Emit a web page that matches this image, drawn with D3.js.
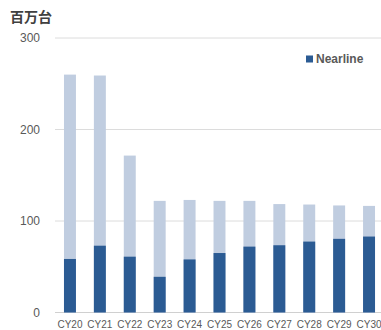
<!DOCTYPE html>
<html>
<head>
<meta charset="utf-8">
<script src="https://cdn.jsdelivr.net/npm/d3@7"></script>
<style>
  html, body { margin: 0; padding: 0; background: #fff; }
  svg { display: block; font-family: "Liberation Sans", Arial, "Noto Sans CJK JP", sans-serif; }
</style>
</head>
<body>
<svg id="chart" width="381" height="330"></svg>
<script>
// HDD shipments, millions of units
const years = ["CY20","CY21","CY22","CY23","CY24","CY25","CY26","CY27","CY28","CY29","CY30"];
const nearline = [58.5, 73, 61, 39, 58, 65, 72, 73.5, 77.5, 80.5, 83];
const total = [260, 259, 171.5, 122, 123, 122, 122, 118.5, 118, 117, 116.5];
const yTicks = [0, 100, 200, 300];

(function () {
  const svg = d3.select("#chart");
  const W = 381;
  const plotLeft = 55, plotRight = 384, plotTop = 38, plotBottom = 312.5;

  const x = d3.scaleBand().domain(years).range([plotLeft, plotRight]).paddingInner(0.6).paddingOuter(0.3);
  const y = d3.scaleLinear().domain([0, 300]).range([plotBottom, plotTop]);

  // gridlines
  svg.append("g").selectAll("line").data(yTicks).join("line")
    .attr("x1", plotLeft).attr("x2", W)
    .attr("y1", d => y(d)).attr("y2", d => y(d))
    .attr("stroke", d => d === 0 ? "#d0d0d0" : "#dcdcdc").attr("stroke-width", 1);

  // y tick labels
  svg.append("g").selectAll("text").data(yTicks).join("text")
    .attr("x", 40).attr("y", d => y(d)).attr("dy", "0.35em")
    .attr("text-anchor", "end").attr("font-size", 12).attr("fill", "#595959")
    .text(d => d);

  // unit label
  svg.append("text").attr("x", 10).attr("y", 22)
    .attr("font-size", 14).attr("font-weight", "bold").attr("fill", "#404040")
    .style("font-family", "'Noto Sans CJK JP', sans-serif")
    .text("百万台");

  // total (light) bars
  svg.append("g").selectAll("rect").data(years).join("rect")
    .attr("x", d => x(d)).attr("width", x.bandwidth())
    .attr("y", (d, i) => y(total[i])).attr("height", (d, i) => y(0) - y(total[i]))
    .attr("fill", "#c0cde0");

  // nearline bars
  svg.append("g").selectAll("rect").data(years).join("rect")
    .attr("x", d => x(d)).attr("width", x.bandwidth())
    .attr("y", (d, i) => y(nearline[i])).attr("height", (d, i) => y(0) - y(nearline[i]))
    .attr("fill", "#2b5b93");

  // x labels
  svg.append("g").selectAll("text").data(years).join("text")
    .attr("x", d => x(d) + x.bandwidth() / 2).attr("y", 328)
    .attr("text-anchor", "middle").attr("font-size", 10).attr("fill", "#595959")
    .text(d => d);

  // legend
  svg.append("rect").attr("x", 306).attr("y", 55.5).attr("width", 7).attr("height", 7).attr("fill", "#2b5b93");
  svg.append("text").attr("x", 316).attr("y", 59).attr("dy", "0.35em")
    .attr("font-size", 12).attr("font-weight", "bold").attr("fill", "#595959")
    .text("Nearline");
})();
</script>
</body>
</html>
